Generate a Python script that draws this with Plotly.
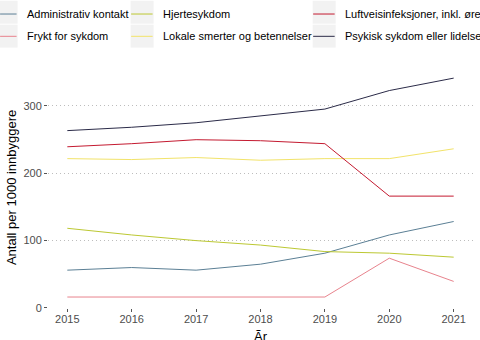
import plotly.graph_objects as go

# Consultations per 1000 inhabitants, by diagnosis group
years = [2015, 2016, 2017, 2018, 2019, 2020, 2021]

series_names = [
    "Administrativ kontakt",
    "Frykt for sykdom",
    "Hjertesykdom",
    "Lokale smerter og betennelser",
    "Luftveisinfeksjoner, inkl. ørebetennelse",
    "Psykisk sykdom eller lidelse",
]
administrativ = [55.7, 59.6, 55.7, 64.6, 80.9, 108.0, 128.0]
frykt = [15.8, 15.8, 15.8, 15.8, 15.8, 73.5, 39.0]
hjerte = [117.9, 108.0, 99.6, 93.0, 83.3, 80.9, 75.0]
lokale = [221.4, 220.0, 223.0, 219.0, 221.4, 221.4, 236.0]
luftvei = [239.0, 243.6, 249.5, 248.0, 243.6, 165.7, 165.7]
psykisk = [263.0, 268.0, 274.7, 285.0, 295.0, 322.5, 341.0]
series_values = [administrativ, frykt, hjerte, lokale, luftvei, psykisk]
series_colors = ["#5b7f95", "#e8838d", "#bcc832", "#f2e36a", "#c41a30", "#2b2b48"]

y_ticks = [0, 100, 200, 300]

W, H = 480, 340
L, R, T, B = 48.4, 6.7, 66.5, 31.5
PW, PH = W - L - R, H - T - B


def px(x):
    return (x - L) / PW


def py(y):
    return 1 - (y - T) / PH


fig = go.Figure()
for name, vals, col in zip(series_names, series_values, series_colors):
    fig.add_trace(go.Scatter(
        x=years, y=vals, mode="lines", name=name,
        line=dict(color=col, width=1), showlegend=False,
        hoverinfo="skip",
    ))

# Legend laid out in three columns, two rows, with grey key boxes
font = "Liberation Sans, Arial, sans-serif"
col_key_x = [(0, 18), (131, 154), (313, 336)]
col_text_x = [25, 161, 343]
row_box_y = [(0, 23), (24, 47)]
row_center = [13.3, 35.7]
shapes = []
annotations = []
for i, (name, col) in enumerate(zip(series_names, series_colors)):
    c, r = i // 2, i % 2
    x0, x1 = col_key_x[c]
    y0, y1 = row_box_y[r]
    shapes.append(dict(type="rect", xref="paper", yref="paper",
                       x0=px(x0), x1=px(x1), y0=py(y1), y1=py(y0),
                       fillcolor="#f2f2f2", line=dict(width=0), layer="below"))
    shapes.append(dict(type="line", xref="paper", yref="paper",
                       x0=px(x0 + 0.5), x1=px(x1 - 1), y0=py(row_center[r]), y1=py(row_center[r]),
                       line=dict(color=col, width=1)))
    annotations.append(dict(text=name, xref="paper", yref="paper",
                            x=px(col_text_x[c]), y=py(row_center[r]),
                            xanchor="left", yanchor="middle", showarrow=False,
                            font=dict(family=font, size=11, color="#000000")))

# Axis titles
annotations.append(dict(text="Ãr", xref="paper", yref="paper", x=0.5, y=py(337),
                        xanchor="center", yanchor="middle", showarrow=False,
                        font=dict(family=font, size=13, color="#000000")))
annotations.append(dict(text="Antall per 1000 innbyggere", xref="paper", yref="paper",
                        x=px(12), y=0.5, textangle=-90,
                        xanchor="center", yanchor="middle", showarrow=False,
                        font=dict(family=font, size=13, color="#000000")))

fig.update_layout(
    width=W, height=H,
    margin=dict(l=L, r=R, t=T, b=B, pad=0),
    paper_bgcolor="white", plot_bgcolor="white",
    shapes=shapes, annotations=annotations,
    xaxis=dict(range=[2014.7, 2021.3], tickvals=years, ticktext=[str(y) for y in years],
               showgrid=False, zeroline=False, showline=False,
               ticks="outside", ticklen=3, tickcolor="#555555",
               ticklabelstandoff=-2,
               tickfont=dict(family=font, size=11, color="#4d4d4d")),
    yaxis=dict(range=[-0.5, 357.5], tickvals=y_ticks, ticktext=[str(v) for v in y_ticks],
               showgrid=True, gridcolor="#bdbdbd", griddash="1px,3px", gridwidth=1,
               zeroline=False, showline=False,
               ticks="outside", ticklen=3, tickcolor="#555555",
               tickfont=dict(family=font, size=11, color="#4d4d4d")),
)

fig.write_html("out.html")
